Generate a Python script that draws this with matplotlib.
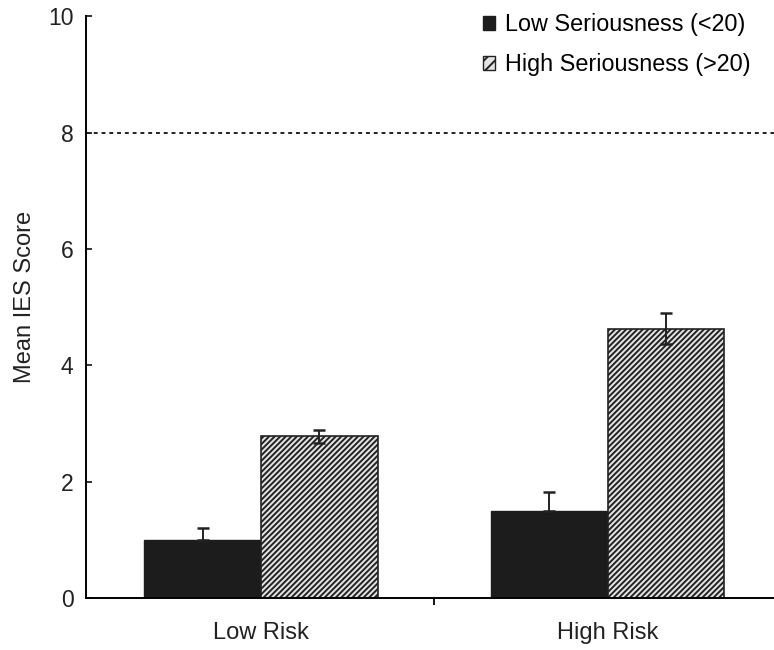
import numpy as np
import matplotlib.pyplot as plt
from matplotlib.patches import Patch

plt.rcParams['font.family'] = ['Liberation Sans', 'DejaVu Sans']
plt.rcParams['hatch.linewidth'] = 1.4
plt.rcParams['hatch.color'] = '#555555'

# dati
gruppi = ['Low Risk', 'High Risk']
serie = ['Low Seriousness (<20)', 'High Seriousness (>20)']
media_bassa = [1.0, 1.5]
media_alta = [2.78, 4.63]
err_bassa = [0.21, 0.32]
err_alta = [0.11, 0.27]
soglia = 8

x = np.arange(len(gruppi))
w = 0.337
nero = '#1c1c1c'

fig = plt.figure(figsize=(7.74, 6.5), dpi=100)
ax = fig.add_axes([0.111, 0.08, 0.889, 0.895])

ax.bar(x - w / 2, media_bassa, w, color=nero, edgecolor=nero, lw=1)
ax.bar(x + w / 2, media_alta, w, color='#e4e4e4', edgecolor='#222222', lw=1.2,
       hatch='//////')
ax.errorbar(x - w / 2, media_bassa, yerr=[[0, 0], err_bassa], fmt='none',
            ecolor='#222222', elinewidth=1.4, capsize=4.5, capthick=1.8)
ax.errorbar(x + w / 2, media_alta, yerr=err_alta, fmt='none',
            ecolor='#222222', elinewidth=1.4, capsize=4.5, capthick=1.8)

ax.axhline(soglia, color='#222222', lw=1.4, ls=(0, (2, 2)))

ax.set_xlim(-0.505, 1.48)
ax.set_ylim(0, 10)
ax.set_yticks([0, 2, 4, 6, 8, 10])
ax.set_xticks([0.5])
ax.set_xticklabels([])
for xi, g in zip(x, gruppi):
    ax.text(xi, -0.42, g, ha='center', va='top', fontsize=17, color='#222222')

for s in ['top', 'right']:
    ax.spines[s].set_visible(False)
ax.spines['left'].set_linewidth(1.4)
ax.spines['bottom'].set_linewidth(1.4)
ax.tick_params(axis='y', direction='in', length=4, width=1.3, labelsize=16.5,
               pad=9, colors='#222222')
ax.tick_params(axis='x', direction='out', length=5, width=1.3)
ax.set_ylabel('Mean IES Score', fontsize=17, color='#222222')
ax.yaxis.set_label_coords(-0.072, 0.517)

maniglie = [Patch(facecolor=nero, edgecolor=nero),
            Patch(facecolor='#e4e4e4', edgecolor='#222222', hatch='///')]
ax.legend(maniglie, serie, loc='upper right', bbox_to_anchor=(0.997, 1.041),
          frameon=False, fontsize=16.8, handlelength=0.5, handleheight=0.5,
          handletextpad=0.45, labelspacing=0.72)

fig.savefig('out.png', dpi=100)
